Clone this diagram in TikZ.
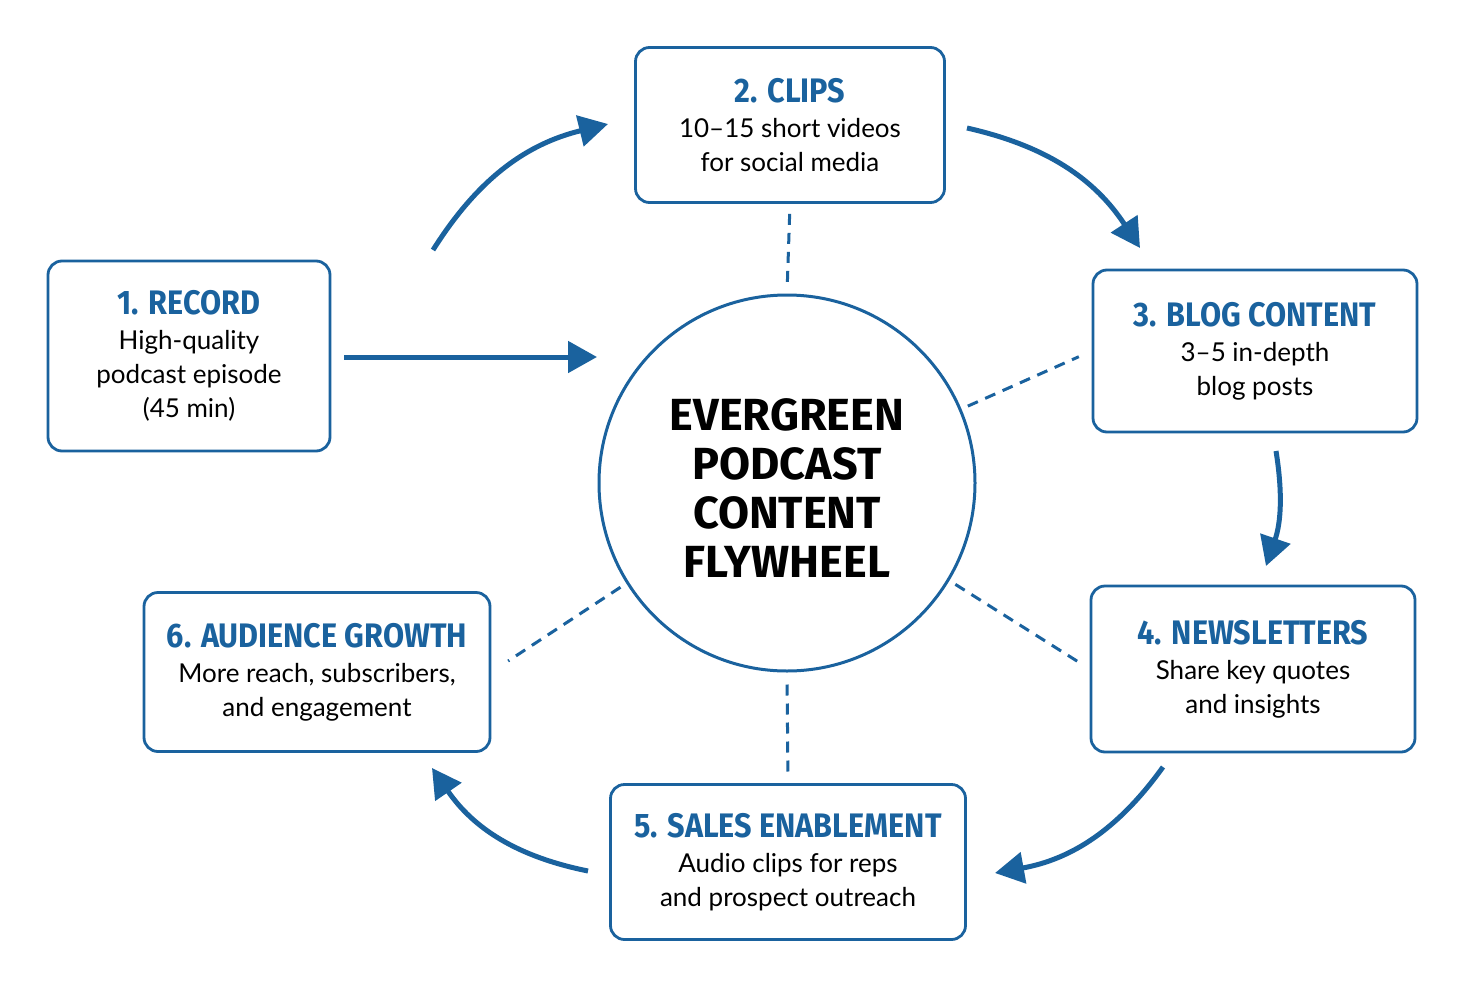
\documentclass[tikz,border=0pt]{standalone}
\usepackage{fontspec}
\usetikzlibrary{arrows.meta}
\newfontfamily\titlef[FakeStretch=0.9]{Fira Sans}
\newfontfamily\bodyf{Lato}
\newfontfamily\centf{Fira Sans}
\definecolor{fblue}{RGB}{26,98,158}
\newcommand\stepttl[1]{{\titlef\bfseries\fontsize{34}{34}\selectfont\color{fblue}#1}}
\begin{document}
\begin{tikzpicture}[x=1pt,y=1pt,
  box/.style={draw=fblue, line width=2.8pt, rounded corners=14pt, fill=white, align=center, inner sep=0pt,
    font=\bodyf\fontsize{26}{34}\selectfont},
  arr/.style={draw=fblue, line width=5pt, -{Triangle[length=29pt,width=31pt]}},
  dline/.style={draw=fblue, line width=3pt, dash pattern=on 11pt off 8pt}
]
\useasboundingbox (0,0) rectangle (1465,-988);
\fill[white] (0,0) rectangle (1465,-988);

\node[circle, draw=fblue, line width=3pt, minimum size=376pt, inner sep=0pt, align=center,
  font=\centf\bfseries\fontsize{45}{49}\selectfont] (hub) at (787,-483)
  {\rule{0pt}{42pt}EVERGREEN\\PODCAST\\CONTENT\\FLYWHEEL};

\node[box, minimum width=282pt, minimum height=190pt] (rec) at (189,-356)
  {\stepttl{1. RECORD}\\[1pt]High-quality\\podcast episode\\(45 min)};
\node[box, minimum width=309pt, minimum height=155pt] (clips) at (790,-125)
  {\stepttl{2. CLIPS}\\[1pt]10–15 short videos\\for social media};
\node[box, minimum width=324pt, minimum height=162pt] (blog) at (1255,-351)
  {\stepttl{3. BLOG CONTENT}\\[1pt]3–5 in-depth\\blog posts};
\node[box, minimum width=324pt, minimum height=166pt] (news) at (1253,-669)
  {\stepttl{4. NEWSLETTERS}\\[1pt]Share key quotes\\and insights};
\node[box, minimum width=355pt, minimum height=155pt] (sales) at (788,-862)
  {\stepttl{5. SALES ENABLEMENT}\\[1pt]Audio clips for reps\\and prospect outreach};
\node[box, minimum width=346pt, minimum height=159pt] (aud) at (317,-672)
  {\stepttl{6. AUDIENCE GROWTH}\\[1pt]More reach, subscribers,\\and engagement};

% dashed spokes
\draw[dline, shorten <=10pt, shorten >=4pt] (clips.south) -- (hub.north);
\draw[dline, shorten <=7pt, shorten >=14pt] (hub.23) -- (blog.west);
\draw[dline, shorten <=7pt, shorten >=14pt] (hub.-31.5) -- (news.west);
\draw[dline, shorten <=12pt, shorten >=10pt] (hub.south) -- (sales.north);
\draw[dline, shorten <=7pt, shorten >=20pt] (hub.212.5) -- (aud.east);

% arrows
\coordinate (a1e) at (597,-357);
\coordinate (a2s) at (433,-250); \coordinate (a2e) at (608,-124);
\coordinate (a3s) at (967,-128); \coordinate (a3e) at (1140,-248);
\coordinate (a4s) at (1276,-451); \coordinate (a4e) at (1266,-566);
\coordinate (a5s) at (1163,-767); \coordinate (a5e) at (995,-873);
\coordinate (a6s) at (588,-871); \coordinate (a6e) at (432,-768);

\draw[arr, shorten <=13pt] (rec.east |- a1e) -- (a1e);
\draw[arr] (a2s) to[bend left=22] (a2e);
\draw[arr] (a3s) to[bend left=22] (a3e);
\draw[arr] (a4s) to[bend left=14] (a4e);
\draw[arr] (a5s) to[bend left=22] (a5e);
\draw[arr] (a6s) to[bend left=22] (a6e);
\end{tikzpicture}
\end{document}
